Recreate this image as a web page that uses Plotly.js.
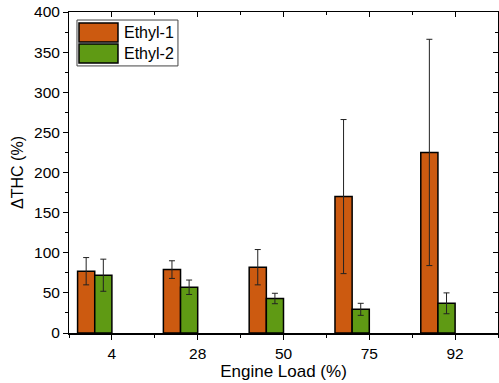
<!DOCTYPE html>
<html>
<head>
<meta charset="utf-8">
<script src="https://cdn.plot.ly/plotly-3.0.1.min.js"></script>
<style>html,body{margin:0;padding:0;background:#fff}#chart{width:499px;height:383px}</style>
</head>
<body>
<div id="chart"></div>
<script>
// Engine load categories
const loads = ['4', '28', '50', '75', '92'];
// Ethyl-1 series
const ethyl1 = [77, 79, 82, 170, 225];
const ethyl1Err = [17, 11, 22, 96, 141];
// Ethyl-2 series
const ethyl2 = [72, 57, 43, 29.5, 37];
const ethyl2Err = [20, 9, 6.5, 7.5, 13];
// Tick labels / axis settings
const yTicks = [0, 50, 100, 150, 200, 250, 300, 350, 400];
const seriesNames = ['Ethyl-1', 'Ethyl-2'];
const seriesColors = ['#CC5A10', '#5F9A14'];

const xIdx = loads.map((_, i) => i);
const boundaries = loads.map((_, i) => i - 0.5).concat([loads.length - 0.5]);
const fontFam = 'Liberation Sans, Arial, sans-serif';

const errStyle = {type: 'data', visible: true, color: '#222', thickness: 1, width: 3};

const traces = [
  {
    type: 'bar', name: seriesNames[0], x: xIdx, y: ethyl1, width: 0.2, offset: -0.4,
    error_y: Object.assign({array: ethyl1Err}, errStyle),
    marker: {color: seriesColors[0], line: {color: '#000', width: 1.5}}, showlegend: false
  },
  {
    type: 'bar', name: seriesNames[1], x: xIdx, y: ethyl2, width: 0.2, offset: -0.2,
    error_y: Object.assign({array: ethyl2Err}, errStyle),
    marker: {color: seriesColors[1], line: {color: '#000', width: 1.5}}, showlegend: false
  },
  {type: 'scatter', x: [], y: [], xaxis: 'x2', yaxis: 'y2', showlegend: false, hoverinfo: 'skip'}
];

const xr = [-0.5, loads.length - 0.5];
const yr = [0, 400];

// Legend drawn as a box with swatches (paper coordinates)
const legBox = {x0: 0.0186, x1: 0.254, y0: 0.832, y1: 0.975};
const swX = [0.0233, 0.1142];
const swY = [[0.9065, 0.9657], [0.8411, 0.9003]];
const shapes = [
  {type: 'rect', xref: 'paper', yref: 'paper', x0: legBox.x0, x1: legBox.x1, y0: legBox.y0, y1: legBox.y1,
   line: {color: '#444', width: 1}, fillcolor: '#fff', layer: 'above'}
];
const annotations = [];
seriesNames.forEach((n, i) => {
  shapes.push({type: 'rect', xref: 'paper', yref: 'paper', x0: swX[0], x1: swX[1], y0: swY[i][0], y1: swY[i][1],
    line: {color: '#000', width: 1.5}, fillcolor: seriesColors[i], layer: 'above'});
  annotations.push({xref: 'paper', yref: 'paper', x: 0.124, y: (swY[i][0] + swY[i][1]) / 2,
    xanchor: 'left', yanchor: 'middle', text: n, showarrow: false,
    font: {family: fontFam, size: 16, color: '#000'}});
});

const layout = {
  width: 499, height: 383,
  margin: {l: 69, r: 1, t: 12, b: 50},
  paper_bgcolor: '#fff', plot_bgcolor: '#fff',
  font: {family: fontFam, size: 15, color: '#000'},
  barmode: 'overlay',
  showlegend: false,
  shapes: shapes,
  annotations: annotations,
  xaxis: {
    range: xr, tickmode: 'array', tickvals: xIdx, ticktext: loads,
    showgrid: false, zeroline: false,
    showline: true, linecolor: '#000', linewidth: 2,
    ticks: 'outside', ticklen: 5, tickwidth: 1, tickcolor: '#000',
    minor: {tickmode: 'array', tickvals: boundaries, ticks: 'outside', ticklen: 3, tickwidth: 1, tickcolor: '#000', showgrid: false},
    tickfont: {size: 15.5},
    title: {text: 'Engine Load (%)', font: {size: 17}, standoff: 4}
  },
  yaxis: {
    range: yr, tickmode: 'array', tickvals: yTicks,
    showgrid: false, zeroline: false,
    showline: true, linecolor: '#000', linewidth: 1,
    ticks: 'outside', ticklen: 5, tickwidth: 1, tickcolor: '#000',
    minor: {dtick: 25, ticks: 'outside', ticklen: 3, tickwidth: 1, tickcolor: '#000', showgrid: false},
    tickfont: {size: 15.5},
    title: {text: 'ΔTHC (%)', font: {size: 16}, standoff: 6}
  },
  xaxis2: {
    overlaying: 'x', side: 'top', range: xr, tickmode: 'array', tickvals: xIdx, showticklabels: false,
    showgrid: false, zeroline: false, showline: true, linecolor: '#000', linewidth: 1,
    ticks: 'inside', ticklen: 5, tickwidth: 1, tickcolor: '#000',
    minor: {tickmode: 'array', tickvals: boundaries, ticks: 'inside', ticklen: 3, tickwidth: 1, tickcolor: '#000', showgrid: false}
  },
  yaxis2: {
    overlaying: 'y', side: 'right', range: yr, tickmode: 'array', tickvals: yTicks, showticklabels: false,
    showgrid: false, zeroline: false, showline: true, linecolor: '#000', linewidth: 1,
    ticks: 'inside', ticklen: 5, tickwidth: 1, tickcolor: '#000',
    minor: {dtick: 25, ticks: 'inside', ticklen: 3, tickwidth: 1, tickcolor: '#000', showgrid: false}
  }
};

Plotly.newPlot('chart', traces, layout, {staticPlot: true, displayModeBar: false});
</script>
</body>
</html>
